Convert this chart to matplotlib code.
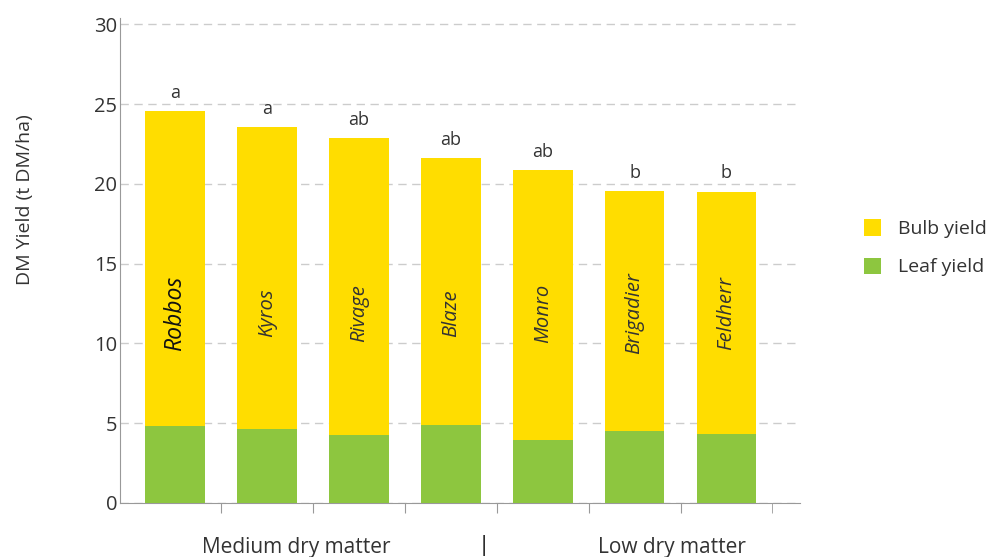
import matplotlib.pyplot as plt
import numpy as np

plt.rcParams['font.family'] = ['Open Sans', 'DejaVu Sans']

# data
varieties = ['Robbos', 'Kyros', 'Rivage', 'Blaze', 'Monro', 'Brigadier', 'Feldherr']
total_yield = [24.55, 23.55, 22.85, 21.6, 20.85, 19.55, 19.5]
leaf_yield = [4.82, 4.63, 4.26, 4.88, 3.94, 4.5, 4.32]
bulb_yield = [t - l for t, l in zip(total_yield, leaf_yield)]
letters = ['a', 'a', 'ab', 'ab', 'ab', 'b', 'b']
groups = ['Medium dry matter', 'Low dry matter']

YELLOW = '#FFDD00'
GREEN = '#8DC63F'
TXT = '#333333'

fig = plt.figure(figsize=(9.94, 5.57), dpi=100)
ax = fig.add_axes([120 / 994, 54 / 557, 680 / 994, 485 / 557])

x = np.arange(len(varieties))
w = 0.65
ax.bar(x, leaf_yield, w, color=GREEN, label='Leaf yield', zorder=3)
ax.bar(x, bulb_yield, w, bottom=leaf_yield, color=YELLOW, label='Bulb yield', zorder=3)

for i, name in enumerate(varieties):
    big = i == 0
    ax.text(x[i], 11.9, name, rotation=90, ha='center', va='center',
            style='italic', fontsize=16.5 if big else 14.5,
            color='#111111' if big else TXT, zorder=4)
    ax.text(x[i], total_yield[i] + 0.6, letters[i], ha='center', va='bottom',
            fontsize=13, color=TXT)

ax.set_xlim(-0.6, 6.8)
ax.set_ylim(0, 30.4)
ax.set_yticks([0, 5, 10, 15, 20, 25, 30])
ax.tick_params(axis='y', length=0, labelsize=14.5, labelcolor=TXT, pad=2)
ax.set_xticks(x[:-1] + 0.5)
ax.set_xticks([6.5], minor=True)
ax.tick_params(axis='x', which='both', direction='out', length=7,
               color='#999999', labelbottom=False)
ax.grid(axis='y', color='#cccccc', linestyle=(0, (6, 4)), linewidth=1, zorder=0)
for s in ['top', 'right']:
    ax.spines[s].set_visible(False)
for s in ['left', 'bottom']:
    ax.spines[s].set_color('#999999')

fig.text(25 / 994, 1 - 200 / 557, 'DM Yield (t DM/ha)', rotation=90,
         ha='center', va='center', fontsize=14, color=TXT)

# group labels under the axis
fig.text(296 / 994, 1 - 547 / 557, groups[0], ha='center', va='center',
         fontsize=15, color=TXT)
fig.text(672 / 994, 1 - 547 / 557, groups[1], ha='center', va='center',
         fontsize=15, color=TXT)
fig.text(484 / 994, 1 - 545 / 557, '|', ha='center', va='center',
         fontsize=16, color='#111111')

handles, labels = ax.get_legend_handles_labels()
fig.legend(handles[::-1], labels[::-1], loc='center left',
           bbox_to_anchor=(846 / 994, 1 - 248 / 557), frameon=False,
           fontsize=14, labelcolor=TXT, handlelength=0.9, handleheight=0.9,
           labelspacing=1.0, handletextpad=0.9)

fig.savefig('out.png', dpi=100)
